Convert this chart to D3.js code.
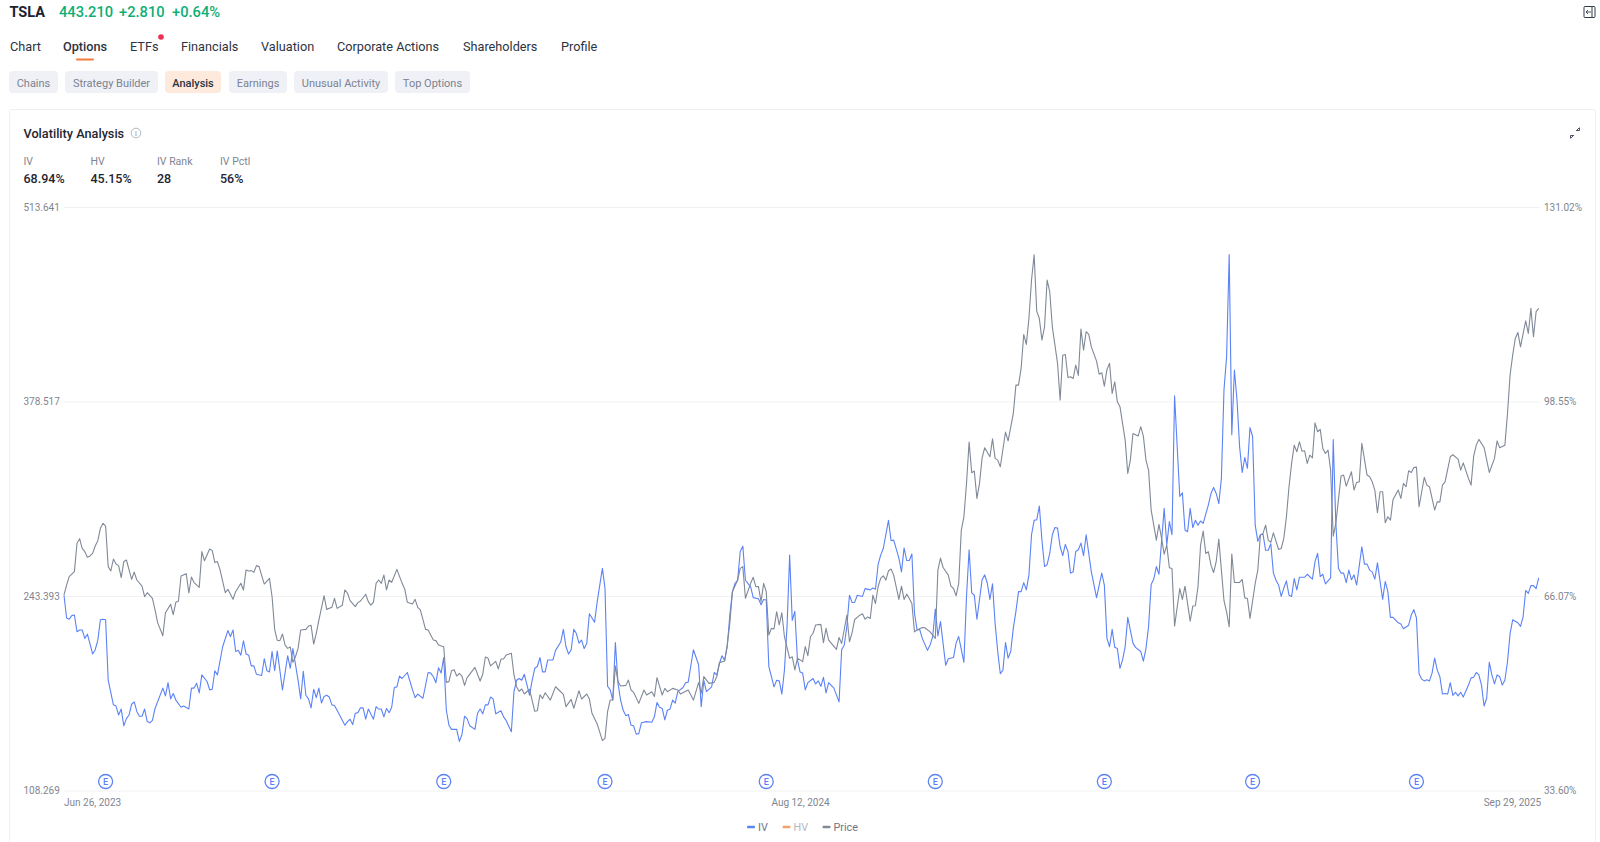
<!DOCTYPE html>
<html>
<head>
<meta charset="utf-8">
<title>TSLA Volatility Analysis</title>
<script src="https://cdn.jsdelivr.net/npm/d3@7"></script>
<style>
  html, body { margin: 0; padding: 0; background: #fff; overflow: hidden; }
  svg { display: block; font-family: Roboto, sans-serif; }
  .domain { display: none; }
</style>
</head>
<body>
<svg id="chart" width="1600" height="842"></svg>
<script>
// header text
let quoteTexts = ["443.210", "+2.810", "+0.64%"];
let navTabs = ["Chart", "Options", "ETFs", "Financials", "Valuation", "Corporate Actions", "Shareholders", "Profile"];
let subTabs = ["Chains", "Strategy Builder", "Analysis", "Earnings", "Unusual Activity", "Top Options"];
let statLabels = ["IV", "HV", "IV Rank", "IV Pctl"];
let statValues = ["68.94%", "45.15%", "28", "56%"];
let legendNames = ["IV", "HV", "Price"];

// axes
let priceTicks = [108.269, 243.393, 378.517, 513.641];
let priceTickLabels = ["108.269", "243.393", "378.517", "513.641"];
let ivTicks = [33.60, 66.07, 98.55, 131.02];
let ivTickLabels = ["33.60%", "66.07%", "98.55%", "131.02%"];
let sessionCount = 568; // trading sessions from Jun 26, 2023 to Sep 29, 2025
let dateTicks = [0, 283, 567];
let dateTickLabels = ["Jun 26, 2023", "Aug 12, 2024", "Sep 29, 2025"];
let earningsSessions = [16, 80, 146, 208, 270, 335, 400, 457, 520];

// [session, price]
let priceData = [[0,244.1],[1,251],[2,256.8],[4,260.3],[5,280],[6,283.2],[7,276.5],[8,274.2],[9,270.3],[10,271.2],[11,273],[12,278.1],[13,281.8],[14,290.4],[15,293.9],[16,292],[17,263.8],[18,260.8],[19,269.1],[20,265.6],[21,264.5],[22,256.1],[23,267.3],[24,268.4],[26,255],[27,260],[28,254.5],[30,250.3],[31,242.9],[32,245.7],[34,241.8],[35,233.7],[36,224.9],[38,215.8],[39,231.8],[41,237.6],[42,230.4],[43,239],[44,239.9],[45,257.3],[47,258.9],[48,245.5],[49,256.6],[50,252.7],[52,249.4],[53,274.2],[54,267.9],[56,276],[57,274.9],[58,266.6],[59,267.3],[60,261.5],[62,245.7],[63,248],[65,241.1],[66,246.4],[68,252.2],[69,247.6],[70,261.5],[71,260.8],[72,261],[73,259.8],[74,264.5],[75,263.8],[77,251.7],[79,255.7],[80,242.9],[81,220.2],[82,212.6],[83,212.4],[84,217],[85,209.3],[86,207],[87,208],[88,197.3],[89,201.2],[90,207],[91,219.8],[93,220.2],[94,222.5],[95,223],[96,210],[97,217.5],[98,226.7],[100,243.6],[101,234.1],[103,235.5],[104,241.8],[105,234.8],[107,236.9],[108,247.6],[109,245.3],[110,240.2],[112,236],[113,238.8],[114,239.9],[116,244.6],[117,239.5],[118,237.1],[119,239.2],[120,252.2],[121,254.5],[122,252.2],[123,258],[124,247.6],[125,254.5],[126,252.9],[128,261.9],[130,252.2],[131,248.3],[132,239],[134,237.8],[135,241.1],[136,235.5],[137,233.7],[138,227.2],[139,220.2],[140,219.8],[142,212.8],[143,212.4],[144,209.3],[146,208.2],[147,183.4],[148,183.9],
  [149,191.5],[150,192.2],[151,187.8],[152,189.7],[153,187.8],[154,181.3],[155,186.7],[158,193.8],[160,184.3],[161,189],[162,201],[163,200.3],[164,194.8],[166,198],[167,192.7],[168,199.6],[169,199.6],[170,202.4],[172,203.6],[173,188.7],[174,180.4],[175,177.2],[176,178.8],[177,175.3],[179,178.6],[181,163.3],[182,163.7],[183,174.8],[184,172.1],[185,176.2],[187,171.1],[189,180.4],[190,178.6],[192,175.1],[193,166.5],[195,171.6],[196,165.4],[198,177.6],[199,171.8],[201,175.3],[202,171.8],[203,161.9],[205,154.5],[207,142.9],[208,144.5],[209,163],[210,171.1],[211,171.1],[212,194.8],[213,183.9],[214,180.9],[216,181.3],[217,185],[218,178.1],[219,176.5],[221,168.8],[223,178.1],[224,174.6],[226,176.9],[227,173.5],[228,186.7],[230,174.6],[231,179.2],[232,176.9],[234,179.2],[236,178.1],[237,175.3],[240,178.1],[242,171.1],[244,183.2],[245,175.8],[246,187.4],[248,182.7],[250,183.4],[251,187.4],[252,197.1],[254,198.2],[255,209.4],[256,224.4],[257,246.4],[259,254.5],[260,262.6],[261,263.8],[262,241.8],[264,252.2],[265,256.4],[266,249.9],[267,249.9],[268,239.5],[269,252.2],[270,246.4],[271,216.3],[272,220.9],[273,220.5],[274,232.5],[275,223.3],[276,231.8],[277,215.1],[279,200.1],[280,201.2],[281,192],[282,200.1],[284,197.8],[285,208.2],[286,202],[287,215.1],[288,217.5],[289,223.3],[291,223.7],[292,211],[293,220.9],[294,212.8],[297,206.3],
  [298,214.6],[299,210.4],[301,230.1],[302,211.6],[303,217.8],[304,227.1],[306,230.1],[307,231],[308,227.3],[309,228.9],[310,227.8],[311,244],[312,238.2],[313,249.8],[314,255.6],[315,257.4],[316,254.4],[317,260.9],[318,262.1],[319,257.9],[321,241],[322,250.2],[323,241],[324,244.7],[325,241.7],[326,238.2],[327,218.5],[328,219.7],[330,221.5],[331,221.3],[333,218.5],[335,213.9],[336,261.4],[337,269.7],[338,263.2],[340,257.9],[341,250.2],[342,248.6],[343,243.5],[344,252.1],[345,289.2],[346,298.4],[347,321.6],[348,350.3],[349,329],[350,330.2],[351,311.2],[352,321.6],[353,339.4],[354,346.4],[356,340.1],[357,352.6],[358,339],[359,337.8],[360,333.2],[362,357.3],[363,351.2],[365,370.2],[366,389.9],[367,389.9],[368,401.5],[369,425.1],[370,418.2],[371,436.2],[372,462.9],[373,480.5],[374,441.3],[375,436.2],[376,421.2],[377,430.4],[378,462.9],[379,454.8],[380,430.4],[382,405],[383,379.5],[384,410.7],[385,411.2],[386,395.2],[387,395.7],[388,394.5],[389,403.8],[390,396.6],[391,428.8],[392,414.2],[393,427],[394,425.1],[395,416.5],[397,406.6],[398,397.5],[399,398.5],[400,389.2],[401,400.8],[402,405],[403,384.1],[404,392.2],[405,378.3],[406,374.9],[408,351.7],[409,328.5],[410,337.8],[411,356.3],[413,354.5],[414,361],[415,354.5],[416,337.8],[417,330.8],[418,303.1],[420,282.2],[421,293.1],[422,283.4],[423,272.5],[424,278.7],[425,263],[426,262.5],[427,222.5],[429,248.6],[430,241],[431,250.2],[433,225.9],[434,236.4],[435,236.6],[436,249.8],[437,278.7],[438,288.5],[439,272.9],[440,274.1],[441,264.8],[442,259.7],[443,267.2],[444,282.9],[445,261.4],[446,240.1],[447,232.4],[448,222],
  [449,272.5],[450,252.8],[452,252.8],[453,254.9],[454,242.1],[455,241.7],[456,227.8],[458,252.1],[459,261.4],[460,285.7],[461,286.9],[462,292.6],[463,282.2],[464,280.6],[465,287.3],[467,275.7],[468,276.4],[469,283.4],[470,298.4],[471,319.3],[472,335.5],[473,348.2],[474,343.6],[475,350.5],[476,344],[477,344.3],[478,335.5],[479,341.3],[480,339.4],[481,363.7],[482,357.5],[483,359.1],[484,345.9],[485,342.4],[486,344.7],[487,330.8],[488,285],[489,293.8],[491,326.7],[492,327.4],[493,319.7],[495,329.7],[496,317],[497,322.3],[498,322.7],[499,349.4],[501,327.4],[502,326.2],[503,322.7],[504,317],[505,301.2],[506,315.8],[507,315.8],[508,294.3],[509,298.4],[510,296.1],[511,310.5],[513,317],[514,311.2],[515,321.6],[516,319.3],[517,330.4],[518,329.2],[519,332.7],[520,332.9],[521,305.4],[523,325.8],[524,320.4],[525,319.3],[527,303.1],[528,308.8],[529,308.8],[530,320.4],[531,322.7],[533,340.1],[534,341.5],[536,338.5],[537,330.8],[538,335.9],[540,325],[541,320.4],[542,340.6],[543,348.2],[544,352.2],[546,346.6],[548,329.2],[550,339],[551,351.2],[552,346.4],[554,348.2],[555,370.2],[556,396.9],[557,410.7],[558,422.3],[559,426.5],[560,416.5],[562,434.6],[563,425.8],[564,443.2],[565,423.5],[566,440.9],[567,443.2]];

// [session, implied volatility %]
let ivData = [[0,66.2],[1,62.4],[2,62.2],[3,62.8],[4,62.9],[5,60.1],[6,60.4],[7,60.4],[8,59],[9,59.7],[11,56.4],[12,57.1],[13,58.7],[14,62.1],[15,62.2],[16,62.1],[17,52],[19,47.9],[20,47.7],[21,46.2],[22,47.2],[23,44.4],[24,45.6],[25,46.2],[26,48],[27,48.4],[28,46.8],[29,46],[30,46],[31,47.2],[32,45.1],[33,44.9],[34,45.3],[35,47.3],[38,50.7],[39,49.4],[40,51.6],[41,48.9],[42,49.8],[43,48.7],[45,47.5],[46,47.7],[48,47.2],[49,50.7],[50,50.7],[51,51.5],[52,49.9],[53,52.9],[55,51.8],[56,50.4],[57,50.5],[58,53.6],[59,52.9],[61,57.6],[63,60.3],[64,59.3],[65,60.4],[66,56.8],[67,57],[68,56.2],[69,58.6],[70,56.4],[71,56.2],[72,54.4],[73,54.4],[74,53],[76,52.8],[77,55.6],[78,53.6],[79,53.4],[80,56.8],[81,53.6],[82,56.9],[84,50.4],[86,56.1],[87,54],[88,57.3],[90,52],[91,48.9],[92,53.5],[93,49.5],[94,48.9],[95,47.4],[96,50.5],[97,49.1],[98,50.7],[99,48.2],[100,49.3],[101,49.5],[102,49.2],[103,47.9],[104,47.8],[105,47],[108,44.5],[109,45.1],[110,45.5],[111,44.6],[112,46.5],[113,46.6],[114,47.4],[115,47.4],[116,45.5],[117,47.2],[119,45.5],[120,47.6],[121,47.2],[122,47.2],[123,45.9],[124,47.3],[125,46.6],[126,47.5],[127,50.8],[128,50.9],[129,52.7],[130,52.3],[132,53.3],[134,50.4],[135,49.1],[136,49.7],[138,49],[140,53.3],[141,53.2],[142,52.6],[143,51.6],[144,54.1],[145,53.2],[146,55.8],[147,47],[148,44.5],
  [149,43.8],[151,43.8],[152,41.8],[153,42.9],[154,46],[155,45.6],[156,44.4],[158,43.8],[159,46.5],[160,47.2],[161,46.4],[162,47.9],[163,47.9],[164,49.2],[165,48.9],[166,46.4],[168,46.9],[169,45.9],[170,45.3],[172,43.4],[173,50.1],[174,52],[175,52.3],[176,52],[177,53],[179,49.5],[180,52],[181,54],[182,54.3],[183,55.8],[184,53.4],[185,53.4],[186,55.4],[188,55.4],[189,57],[191,58.4],[192,60.5],[193,57.6],[194,56.4],[195,57.1],[196,60.5],[197,59.8],[198,58.2],[199,58.7],[200,57.3],[201,58.2],[202,63.1],[204,61.7],[205,65.1],[206,67.9],[207,70.7],[208,67.4],[209,51],[210,50.4],[211,48.7],[212,58.3],[213,51.5],[214,48.7],[215,47],[216,46.1],[217,46.3],[218,44.5],[219,44.4],[220,43],[221,43.1],[222,44.9],[224,45.1],[226,45],[227,45.9],[228,48.3],[229,47.5],[230,47.3],[231,45.4],[232,47],[233,47.2],[234,48.7],[235,48.2],[236,50.1],[238,50.8],[239,51.6],[240,51.7],[242,57.1],[244,54.6],[245,47.6],[246,52],[247,50.1],[249,50.9],[250,53.3],[251,52.9],[252,54.8],[253,56.1],[254,55.3],[255,57.6],[256,62.9],[257,66.8],[258,68.2],[259,68.7],[260,73.5],[261,74.4],[262,68.7],[264,67.6],[265,65.8],[267,65.6],[268,64.6],[269,65.5],[270,65.4],[271,54.3],[272,52.6],[273,50.9],[274,52],[275,51.9],[276,49.7],[277,53.7],[278,61],[279,72.9],[280,62],[281,63.5],[282,55.4],[283,53.4],[284,53.2],[285,50.4],[286,51.6],[288,52.3],[289,51.4],[290,51.9],[291,51],[292,52.5],[293,49.9],[294,51.6],[296,50.7],[298,48.4],
  [299,57.1],[300,57.9],[301,61],[302,66.2],[303,65],[304,65],[305,66.2],[307,66],[308,67.3],[310,67.1],[311,67.4],[312,67.2],[313,71.3],[314,72.9],[315,74],[317,78.7],[318,75.3],[319,75.4],[321,72.4],[322,70.1],[323,74.1],[324,72],[325,72],[326,73.1],[327,63.2],[328,60.4],[329,60.5],[330,59],[332,57],[333,57.9],[334,59.3],[335,63.9],[336,59.4],[337,61.8],[339,54.5],[340,55.6],[342,55.8],[343,58.2],[344,59.3],[346,55],[347,66],[348,73.8],[349,66.6],[350,66.2],[351,62.2],[353,68.8],[354,69.6],[355,68.2],[356,65.5],[357,68.1],[358,61.5],[359,56.8],[360,53.1],[361,53.7],[362,58.3],[363,55.7],[364,56.8],[365,60.7],[366,63.5],[367,66.8],[368,66.8],[369,68.3],[370,67.1],[371,69.6],[372,76.3],[373,78.7],[374,78.8],[375,81.1],[376,75.4],[377,71],[378,71.3],[379,73.2],[380,76.3],[381,77.5],[382,77.4],[383,74.3],[384,72.8],[385,74.7],[386,73.5],[387,69.9],[388,70.1],[389,73.5],[390,73.8],[391,74.9],[392,72.8],[393,76.3],[395,70.1],[397,65.8],[399,69.9],[400,67.9],[401,59],[402,57.6],[403,60.5],[404,57.5],[405,57.3],[406,54],[407,55.4],[408,57.6],[409,62.5],[411,58.2],[412,57.5],[414,56.8],[415,55.2],[416,57.3],[417,61],[418,68],[419,68.9],[420,71],[421,69.7],[423,80.7],[424,74.6],[425,78.5],[426,76.3],[427,99.5],[429,82.7],[430,83.3],[431,77.1],[432,76.8],[433,80.7],[434,77.5],[435,78.7],[436,77.9],[437,78.6],[438,78.2],[440,81.3],[441,83.2],[442,84.2],[443,83.2],[444,81.5],[445,85.7],[446,100.5],[447,106],[448,123.1],
  [449,93],[450,103.8],[451,98.8],[452,91],[453,86.7],[454,89.2],[455,87.4],[456,94.2],[457,92.7],[458,77.9],[459,75.2],[460,76.3],[461,76.4],[462,73.7],[463,73.7],[464,74.8],[465,69.9],[466,68.7],[467,67.9],[468,66],[469,67.4],[470,68.6],[471,66.2],[472,66],[473,69],[474,67.1],[475,69.2],[477,69.2],[478,69.7],[480,68.9],[481,71.8],[482,73.2],[483,69.3],[484,69.7],[485,68.1],[487,69.1],[488,92.2],[489,78.2],[490,70.7],[491,69.9],[492,69.9],[493,68.3],[494,70.4],[495,68.8],[496,69.6],[497,67.9],[499,74.3],[500,71.4],[501,71.4],[502,70.4],[503,70.1],[504,68.9],[505,71.6],[507,65.5],[508,68.5],[509,66.8],[510,62.5],[511,62.5],[513,61.6],[514,61.4],[515,60.6],[517,61.2],[518,62.9],[519,63.8],[520,62.4],[521,53.1],[522,52.2],[523,51.9],[524,52.1],[525,51.9],[526,53.2],[527,55.7],[528,53.7],[529,52.6],[530,49.7],[531,49.8],[532,49.7],[533,51.6],[534,49.5],[535,50],[536,49.4],[537,50],[538,49.2],[540,51.2],[541,52.4],[542,52.5],[543,53.3],[544,52.9],[545,51.2],[546,47.7],[547,49],[548,55],[549,52.9],[550,51.4],[551,52.9],[552,52.6],[553,51.2],[554,52],[555,55.1],[556,59.8],[557,62.1],[559,61.6],[560,61],[561,62.6],[562,67],[563,66.5],[564,67.8],[565,67.8],[566,67.3],[567,69.1]];

let blue = "#5b82f6", grey = "#808997", orange = "#f6a06a";
let svg = d3.select("#chart");

// ---- page header ----
function addText(parent, x, y, text, size, color, weight) {
  return parent.append("text")
    .attr("x", x).attr("y", y)
    .attr("dy", "0.35em")
    .attr("font-size", size)
    .attr("font-weight", weight || 400)
    .attr("fill", color)
    .text(text);
}

addText(svg, 9.5, 12, "TSLA", 14.5, "#1c2230", 700);
let quoteX = [59, 119, 172];
quoteTexts.forEach((t, i) => addText(svg, quoteX[i], 12, t, 14.7, "#0fae75", 500));

let navX = [10, 63, 130, 181, 261, 337, 463, 561];
navTabs.forEach((t, i) => addText(svg, navX[i], 46.5, t, 12.7, "#2d3340", i === 1 ? 500 : 400));
svg.append("rect").attr("x", 76).attr("y", 58.5).attr("width", 18).attr("height", 2).attr("rx", 1).attr("fill", "#f5793b");
svg.append("circle").attr("cx", 161).attr("cy", 37).attr("r", 2.8).attr("fill", "#ee2f55");

let pillLeft = [9, 65, 165, 229, 294, 395];
let pillRight = [58, 158, 221, 287, 388, 470];
subTabs.forEach((t, i) => {
  let active = t === "Analysis";
  svg.append("rect")
    .attr("x", pillLeft[i]).attr("y", 71)
    .attr("width", pillRight[i] - pillLeft[i]).attr("height", 22)
    .attr("rx", 4)
    .attr("fill", active ? "#fdeadc" : "#f0f1f6");
  addText(svg, (pillLeft[i] + pillRight[i]) / 2, 83, t, 11, active ? "#2d3340" : "#7b8291", active ? 500 : 400)
    .attr("text-anchor", "middle");
});

// right top collapse icon
let collapse = svg.append("g").attr("fill", "none").attr("stroke", "#333b48").attr("stroke-width", 1);
collapse.append("rect").attr("x", 1584).attr("y", 6.5).attr("width", 11).attr("height", 11).attr("rx", 1);
collapse.append("path").attr("d", "M1592,7V17");
collapse.append("path").attr("d", "M1591,12H1586M1588,10L1586,12L1588,14").attr("stroke-width", 0.9);

// ---- card ----
svg.append("rect")
  .attr("x", 9.5).attr("y", 109.5)
  .attr("width", 1586).attr("height", 760)
  .attr("rx", 2)
  .attr("fill", "#fff").attr("stroke", "#eeeff1");

addText(svg, 23.5, 133.7, "Volatility Analysis", 12.7, "#1f2530", 500);
svg.append("circle").attr("cx", 136).attr("cy", 133).attr("r", 4.8).attr("fill", "none").attr("stroke", "#a3a8b2").attr("stroke-width", 0.8);
addText(svg, 136, 133, "i", 7.5, "#8d929c").attr("text-anchor", "middle");

// two small arrows pointing at each other
let expand = svg.append("g").attr("fill", "none").attr("stroke", "#4a5160").attr("stroke-width", 1);
expand.append("path").attr("d", "M1570.5,138.5V135.5H1573.5M1571,138L1574,135");
expand.append("path").attr("d", "M1579.5,127.5V130.5H1576.5M1579,128L1576,131");

let statX = [23.5, 90.5, 157, 220];
statLabels.forEach((t, i) => {
  addText(svg, statX[i], 161.5, t, 10.5, "#7f8590");
  addText(svg, statX[i], 179, statValues[i], 12.5, "#1f2530", 500);
});

// ---- chart ----
let x = d3.scaleLinear().domain([0, sessionCount - 1]).range([64, 1538.7]);
let yPrice = d3.scaleLinear().domain([108.269, 513.641]).range([790.5, 207]);
let yIv = d3.scaleLinear().domain([33.60, 131.02]).range([790.5, 207]);

// left axis also draws the grid lines
let leftAxis = svg.append("g")
  .attr("transform", "translate(64,0)")
  .call(d3.axisLeft(yPrice)
    .tickValues(priceTicks)
    .tickSize(-1476)
    .tickFormat((d, i) => priceTickLabels[i]));
leftAxis.selectAll("line").attr("stroke", "#f1f2f4");
leftAxis.selectAll("text")
  .attr("x", -40.5)
  .attr("text-anchor", "start")
  .attr("font-size", 10)
  .attr("font-family", "Roboto, sans-serif")
  .attr("fill", "#7f8590");

let rightAxis = svg.append("g")
  .attr("transform", "translate(1544,0)")
  .call(d3.axisRight(yIv)
    .tickValues(ivTicks)
    .tickSize(0)
    .tickPadding(0)
    .tickFormat((d, i) => ivTickLabels[i]));
rightAxis.selectAll("text")
  .attr("font-size", 10)
  .attr("font-family", "Roboto, sans-serif")
  .attr("fill", "#7f8590");

let bottomAxis = svg.append("g")
  .attr("transform", "translate(0,797)")
  .call(d3.axisBottom(x)
    .tickValues(dateTicks)
    .tickSize(0)
    .tickPadding(2)
    .tickFormat((d, i) => dateTickLabels[i]));
bottomAxis.selectAll("text")
  .attr("font-size", 10)
  .attr("font-family", "Roboto, sans-serif")
  .attr("fill", "#7f8590")
  .attr("dx", (d, i) => [-0.5, 0, 2][i])
  .attr("text-anchor", (d, i) => ["start", "middle", "end"][i]);

let ivLine = d3.line().x(d => x(d[0])).y(d => yIv(d[1]));
let priceLine = d3.line().x(d => x(d[0])).y(d => yPrice(d[1]));

svg.append("path").datum(ivData)
  .attr("d", ivLine)
  .attr("fill", "none").attr("stroke", blue).attr("stroke-width", 1.1).attr("stroke-linejoin", "round");
svg.append("path").datum(priceData)
  .attr("d", priceLine)
  .attr("fill", "none").attr("stroke", grey).attr("stroke-width", 1.1).attr("stroke-linejoin", "round");

// earnings markers
let earnings = svg.selectAll(".earn")
  .data(earningsSessions)
  .enter()
  .append("g")
  .classed("earn", true)
  .attr("transform", d => `translate(${x(d)},781.5)`);
earnings.append("circle").attr("r", 7).attr("fill", "#fff").attr("stroke", blue).attr("stroke-width", 1.3);
earnings.append("text")
  .attr("text-anchor", "middle").attr("dy", "0.35em")
  .attr("font-size", 9).attr("font-weight", 500).attr("fill", blue)
  .text("E");

// legend
let legendX = [747, 782.5, 822.5];
let legendColors = [blue, orange, grey];
let legendTextColors = ["#6f7683", "#b4b8c0", "#6f7683"];
legendNames.forEach((name, i) => {
  svg.append("rect")
    .attr("x", legendX[i]).attr("y", 825.7)
    .attr("width", 8).attr("height", 2.6).attr("rx", 1)
    .attr("fill", legendColors[i]);
  addText(svg, legendX[i] + 11, 827, name, 10.8, legendTextColors[i]);
});
</script>
</body>
</html>
